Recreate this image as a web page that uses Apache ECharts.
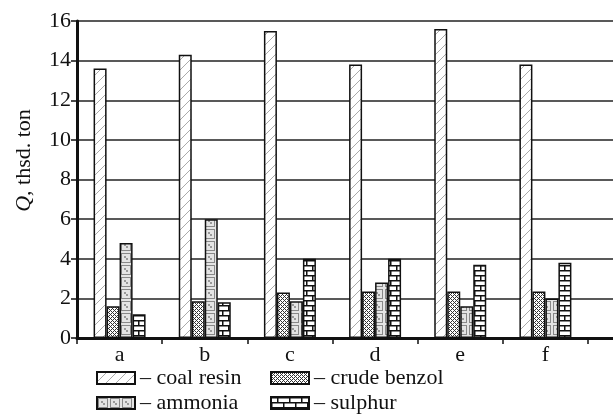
<!DOCTYPE html>
<html>
<head>
<meta charset="UTF-8">
<title>Q, thsd. ton</title>
<script src="https://cdn.jsdelivr.net/npm/echarts@6/dist/echarts.min.js"></script>
<style>
  html, body { margin: 0; padding: 0; background: #fff; }
  #main { width: 613px; height: 416px; }
</style>
</head>
<body>
<div id="main"></div>
<script>
    // data
    var categories = ['a', 'b', 'c', 'd', 'e', 'f'];
    var coalResin = [13.6, 14.3, 15.5, 13.8, 15.6, 13.8];
    var crudeBenzol = [1.6, 1.85, 2.3, 2.35, 2.35, 2.35];
    var ammonia = [4.8, 6.0, 1.85, 2.8, 1.6, 2.0];
    var sulphur = [1.2, 1.8, 4.0, 4.0, 3.7, 3.8];
    var seriesNames = ['coal resin', 'crude benzol', 'ammonia', 'sulphur'];

    var font = 'Liberation Serif';

    // hatch patterns drawn on small canvases
    function makeCanvas(w, h, draw) {
        var c = document.createElement('canvas');
        c.width = w; c.height = h;
        var ctx = c.getContext('2d');
        draw(ctx, w, h);
        return c;
    }
    var hatchDiag = makeCanvas(10, 10, function (ctx, w, h) {
        ctx.fillStyle = '#fff'; ctx.fillRect(0, 0, w, h);
        ctx.strokeStyle = '#aaa'; ctx.lineWidth = 1;
        ctx.beginPath(); ctx.moveTo(0, h); ctx.lineTo(w, 0); ctx.stroke();
    });
    var hatchCross = makeCanvas(4, 4, function (ctx, w, h) {
        ctx.fillStyle = '#fff'; ctx.fillRect(0, 0, w, h);
        ctx.fillStyle = '#333';
        for (var x = 0; x < w; x++) {
            for (var y = 0; y < h; y++) {
                if ((x + y) % 4 === 0 || (x - y + 4) % 4 === 0) ctx.fillRect(x, y, 1, 1);
            }
        }
    });
    var hatchBox = makeCanvas(12, 12, function (ctx, w, h) {
        ctx.fillStyle = '#e4e4e4'; ctx.fillRect(0, 0, w, h);
        ctx.strokeStyle = '#888'; ctx.lineWidth = 1;
        ctx.strokeRect(1.5, 1.5, 9, 9);
        ctx.fillStyle = '#999';
        ctx.fillRect(4, 4, 2, 2); ctx.fillRect(6, 6, 2, 2);
    });
    var hatchBrick = makeCanvas(12, 10, function (ctx, w, h) {
        ctx.fillStyle = '#fff'; ctx.fillRect(0, 0, w, h);
        ctx.fillStyle = '#111';
        ctx.fillRect(0, 0, w, 1.5);
        ctx.fillRect(0, 5, w, 1.5);
        ctx.fillRect(6, 0, 1.5, 5);
        ctx.fillRect(0, 5, 1.5, 5);
    });
    var patterns = [hatchDiag, hatchCross, hatchBox, hatchBrick];
    var values = [coalResin, crudeBenzol, ammonia, sulphur];

    var series = [];
    for (var i = 0; i < 4; i++) {
        series.push({
            name: seriesNames[i],
            type: 'bar',
            xAxisIndex: 0,
            yAxisIndex: 0,
            barWidth: 13,
            barGap: '0%',
            itemStyle: {
                color: {image: patterns[i], repeat: 'repeat'},
                borderColor: '#111',
                borderWidth: 1.5
            },
            data: values[i]
        });
    }

    // one legend per item, laid out as 2 columns x 2 rows
    var legendLeft = [91, 265, 91, 265];
    var legendTop = [362, 362, 387, 387];
    var legends = seriesNames.map(function (name, k) {
        return {
            left: legendLeft[k],
            top: legendTop[k],
            itemWidth: 38,
            itemHeight: 12,
            icon: 'rect',
            formatter: '– {name}',
            textStyle: {fontFamily: font, fontSize: 22, color: '#111'},
            data: [name]
        };
    });

    var myChart = echarts.init(document.getElementById('main'));
    var option = {
        animation: false,
        backgroundColor: '#fff',
        legend: legends,
        grid: [
            {left: 77, right: 25, top: 21, bottom: 78},
            {left: 588, right: 0, top: 21, bottom: 78}
        ],
        xAxis: [{
            type: 'category',
            gridIndex: 0,
            data: categories,
            axisLine: {lineStyle: {color: '#111', width: 3}},
            axisTick: {show: true, length: 6, lineStyle: {color: '#111', width: 1.5}},
            axisLabel: {fontFamily: font, fontSize: 22, color: '#111', margin: 6}
        }, {
            type: 'value',
            gridIndex: 1,
            min: 0, max: 1,
            axisLine: {show: true, lineStyle: {color: '#111', width: 3}},
            axisTick: {show: false},
            axisLabel: {show: false},
            splitLine: {show: false}
        }],
        yAxis: [{
            type: 'value',
            gridIndex: 0,
            min: 0, max: 16, interval: 2,
            name: '{q|Q}, thsd. ton',
            nameLocation: 'middle',
            nameGap: 42,
            nameTextStyle: {
                fontFamily: font, fontSize: 22, color: '#111',
                padding: [0, 0, 0, 38],
                rich: {q: {fontFamily: font, fontSize: 22, fontStyle: 'italic', color: '#111'}}
            },
            axisLine: {show: true, lineStyle: {color: '#111', width: 3}},
            axisTick: {show: true, length: 6, lineStyle: {color: '#111', width: 1.5}},
            axisLabel: {fontFamily: font, fontSize: 22, color: '#111', margin: 6},
            splitLine: {lineStyle: {color: '#222', width: 1.5}}
        }, {
            type: 'value',
            gridIndex: 1,
            min: 0, max: 16, interval: 2,
            axisLine: {show: false},
            axisTick: {show: false},
            axisLabel: {show: false},
            splitLine: {lineStyle: {color: '#222', width: 1.5}}
        }],
        series: series
    };
    myChart.setOption(option);
</script>
</body>
</html>
